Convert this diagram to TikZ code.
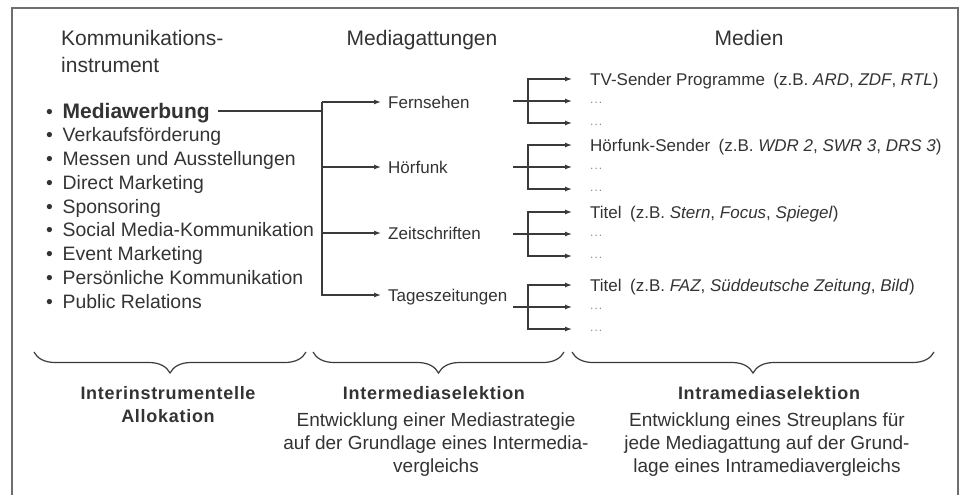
\documentclass[tikz,border=0pt]{standalone}
\usepackage{fontspec}
\setmainfont{Liberation Sans}
\newfontfamily\spacedsans[LetterSpace=4.0]{Liberation Sans}
\usetikzlibrary{positioning, arrows.meta, decorations.pathreplacing}
\definecolor{inkgray}{HTML}{333333}
\definecolor{linegray}{HTML}{3A3A3A}
\definecolor{framegray}{HTML}{6E6E6E}
\definecolor{dotgray}{HTML}{8A8A8A}

\begin{document}
\begin{tikzpicture}[x=1pt, y=-1pt, text=inkgray,
    head/.style={font=\fontsize{21}{27}\selectfont, inner sep=0pt, align=left},
    item/.style={font=\fontsize{19.4}{24}\selectfont, anchor=west, inner sep=0pt, text height=14pt, text depth=0pt},
    gatt/.style={font=\fontsize{17}{20}\selectfont, anchor=west, inner ysep=0pt, inner xsep=7pt, text height=12.2pt, text depth=0pt},
    medium/.style={font=\fontsize{17}{20}\selectfont, anchor=west, inner ysep=0pt, inner xsep=18pt, text height=12.2pt, text depth=0pt},
    dots/.style={font=\fontsize{12}{14}\selectfont, text=dotgray, anchor=west, inner ysep=0pt, inner xsep=18pt, text height=4pt, text depth=0pt},
    stage/.style={font=\spacedsans\bfseries\fontsize{18}{23}\selectfont, align=center, anchor=north, inner sep=0pt},
    desc/.style={font=\fontsize{19}{23}\selectfont, align=center, anchor=north, inner sep=0pt},
    ln/.style={linegray, line width=1.3pt},
    arr/.style={ln, -{Latex[length=7pt, width=5pt]}},
    brace/.style={decorate, decoration={brace, mirror, amplitude=21pt}, linegray, line width=1.2pt}]
  \useasboundingbox (0,0) rectangle (963,495);
  \draw[framegray, line width=2pt] (12,495) -- (12,8) -- (958,8) -- (958,495);

  % column heads
  \node[head, anchor=north west] (kom) at (61,30.5) {Kommunikations-\\instrument};
  \node[head, anchor=north] (gattung) at (422,30.5) {Mediagattungen};
  \node[head, anchor=north] (medien) at (749,30.5) {Medien};

  % instruments
  \node[item, inner xsep=8pt, font=\bfseries\fontsize{21}{24}\selectfont] (mw) at (38,111)
    {\makebox[16.5pt][l]{\mdseries\fontsize{19.4}{24}\selectfont •}Mediawerbung};
  \foreach \txt [count=\i] in {Verkaufsförderung, Messen und Ausstellungen, Direct Marketing,
      Sponsoring, Social Media-Kommunikation, Event Marketing, Persönliche Kommunikation, Public Relations}
    \node[item] (ins\i) at (46,{111+23.75*\i}) {\makebox[16.5pt][l]{•}\txt};

  % media types
  \node[gatt] (fern) at (381,102) {Fernsehen};
  \node[gatt] (hoer) at (381,167) {Hörfunk};
  \node[gatt] (zeit) at (381,233) {Zeitschriften};
  \node[gatt] (tages) at (381,295) {Tageszeitungen};

  \coordinate (bar) at (322,102);
  \draw[ln] (mw) -- (mw -| bar);
  \draw[arr] (bar) -- (fern);
  \draw[arr] (bar) |- (hoer);
  \draw[arr] (bar) |- (zeit);
  \draw[arr] (bar) |- (tages);

  % media
  \node[medium] (f1) at (572,79) {TV-Sender Programme\enspace(z.B. \textit{ARD}, \textit{ZDF}, \textit{RTL})};
  \node[dots] (f2) at (572,101) {.\kern1pt.\kern1pt.};
  \node[dots] (f3) at (572,123) {.\kern1pt.\kern1pt.};
  \node[medium] (h1) at (572,145) {Hörfunk-Sender\enspace(z.B. \textit{WDR 2}, \textit{SWR 3}, \textit{DRS 3})};
  \node[dots] (h2) at (572,167) {.\kern1pt.\kern1pt.};
  \node[dots] (h3) at (572,189) {.\kern1pt.\kern1pt.};
  \node[medium] (z1) at (572,212) {Titel\enspace(z.B. \textit{Stern}, \textit{Focus}, \textit{Spiegel})};
  \node[dots] (z2) at (572,234) {.\kern1pt.\kern1pt.};
  \node[dots] (z3) at (572,256) {.\kern1pt.\kern1pt.};
  \node[medium] (t1) at (572,285) {Titel\enspace(z.B. \textit{FAZ}, \textit{Süddeutsche Zeitung}, \textit{Bild})};
  \node[dots] (t2) at (572,307) {.\kern1pt.\kern1pt.};
  \node[dots] (t3) at (572,329) {.\kern1pt.\kern1pt.};

  \foreach \g/\y in {f/101, h/167, z/234, t/307} {
    \coordinate (\g-in) at (513,\y);
    \coordinate (\g-fork) at (528,\y);
    \draw[arr] (\g-in) -- (\g2);
    \draw[arr] (\g-fork) |- (\g1);
    \draw[arr] (\g-fork) |- (\g3);
  }

  % selection stages
  \draw[brace] (34,352) -- (306,352);
  \draw[brace] (313,352) -- (564,352);
  \draw[brace] (572,352) -- (934,352);

  \node[stage] (alloc) at (168,386) {Interinstrumentelle\\Allokation};
  \node[stage] (inter) at (434,386) {Intermediaselektion};
  \node[stage] (intra) at (769,386) {Intramediaselektion};
  \node[desc, below=13pt of inter, xshift=2pt] (interdesc)
    {Entwicklung einer Mediastrategie\\auf der Grundlage eines Intermedia-\\vergleichs};
  \node[desc, below=13pt of intra, xshift=-2pt] (intradesc)
    {Entwicklung eines Streuplans für\\jede Mediagattung auf der Grund-\\lage eines Intramediavergleichs};
\end{tikzpicture}
\end{document}
